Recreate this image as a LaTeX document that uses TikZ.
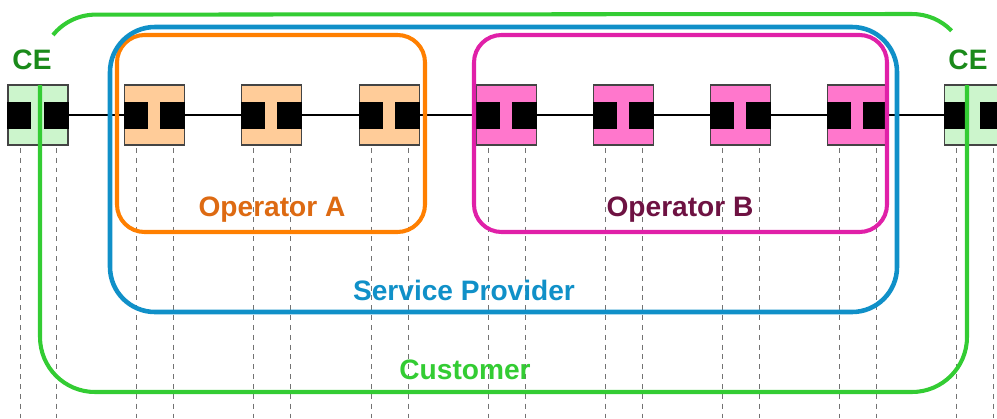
\documentclass[tikz,border=0pt]{standalone}
\usepackage{fontspec}
\setmainfont{Liberation Sans}
\definecolor{cefill}{HTML}{CCF5CC}
\definecolor{afill}{HTML}{FFCC99}
\definecolor{bfill}{HTML}{FF77CC}
\definecolor{boxgray}{HTML}{444444}
\definecolor{opa}{HTML}{FF7F00}
\definecolor{opatext}{HTML}{DD6A12}
\definecolor{opb}{HTML}{E020A8}
\definecolor{opbtext}{HTML}{6E1242}
\definecolor{sp}{HTML}{1090C8}
\definecolor{cust}{HTML}{33CC33}
\definecolor{cetext}{HTML}{1A8A1A}

\begin{document}
\begin{tikzpicture}[x=0.02cm, y=-0.02cm]
\tikzstyle{nebox} = [draw=boxgray, line width=1pt, minimum size=1.2cm, inner sep=0pt]
\tikzstyle{probe} = [black!55, line width=0.5pt, dash pattern=on 2.8pt off 2.8pt]
\tikzstyle{lbl} = [font=\fontsize{16}{18}\selectfont\bfseries, inner sep=1pt]
\useasboundingbox (0,0) rectangle (997,419);
\clip (0,0) rectangle (997,419);
\node[nebox, fill=cefill] (ce_l) at (38, 115) {};
\node[nebox, fill=afill] (a_1) at (154.5, 115) {};
\node[nebox, fill=afill] (a_2) at (271.5, 115) {};
\node[nebox, fill=afill] (a_3) at (389.5, 115) {};
\node[nebox, fill=bfill] (b_1) at (506.5, 115) {};
\node[nebox, fill=bfill] (b_2) at (623.5, 115) {};
\node[nebox, fill=bfill] (b_3) at (740.5, 115) {};
\node[nebox, fill=bfill] (b_4) at (857.5, 115) {};
\node[nebox, fill=cefill] (ce_r) at (974.5, 115) {};
\draw[line width=1.1pt] (ce_l) -- (a_1) -- (a_2) -- (a_3) -- (b_1) -- (b_2) -- (b_3) -- (b_4) -- (ce_r);
% ports and probes
\foreach \n in {ce_l, a_1, a_2, a_3, b_1, b_2, b_3, b_4, ce_r} {
  \fill (\n.west) ++(0,-13.5) rectangle ++(24,27);
  \fill (\n.east) ++(0,-13.5) rectangle ++(-25,27);
  \draw[probe] (\n.south west) ++(13,2) -- ++(0,280);
  \draw[probe] (\n.south east) ++(-12,2) -- ++(0,280);
}
% domains
\draw[opa, line width=2.3pt, rounded corners=0.55cm] (117,35) rectangle (425,232);
\draw[opb, line width=2.3pt, rounded corners=0.55cm] (474,35) rectangle (887,232);
\draw[sp, line width=2.6pt, rounded corners=0.9cm] (110,27) rectangle (897,312);
\draw[cust, line width=2.3pt] (53,35) arc[start angle=219, end angle=270, radius=55] -- (912,14) arc[start angle=270, end angle=316, radius=55];
\draw[cust, line width=2.3pt, rounded corners=1.1cm] (40,85) -- (40,392) -- (967,392) -- (967,85);
\node[lbl, text=cetext] (ce_l_lbl) at (32, 60) {CE};
\node[lbl, text=cetext] (ce_r_lbl) at (968, 60) {CE};
\node[lbl, text=opatext] (opa_lbl) at (272, 210) {Operator A};
\node[lbl, text=opbtext] (opb_lbl) at (680, 210) {Operator B};
\node[lbl, text=sp] (sp_lbl) at (464, 290) {Service Provider};
\node[lbl, text=cust] (cust_lbl) at (465, 370) {Customer};
\end{tikzpicture}
\end{document}
